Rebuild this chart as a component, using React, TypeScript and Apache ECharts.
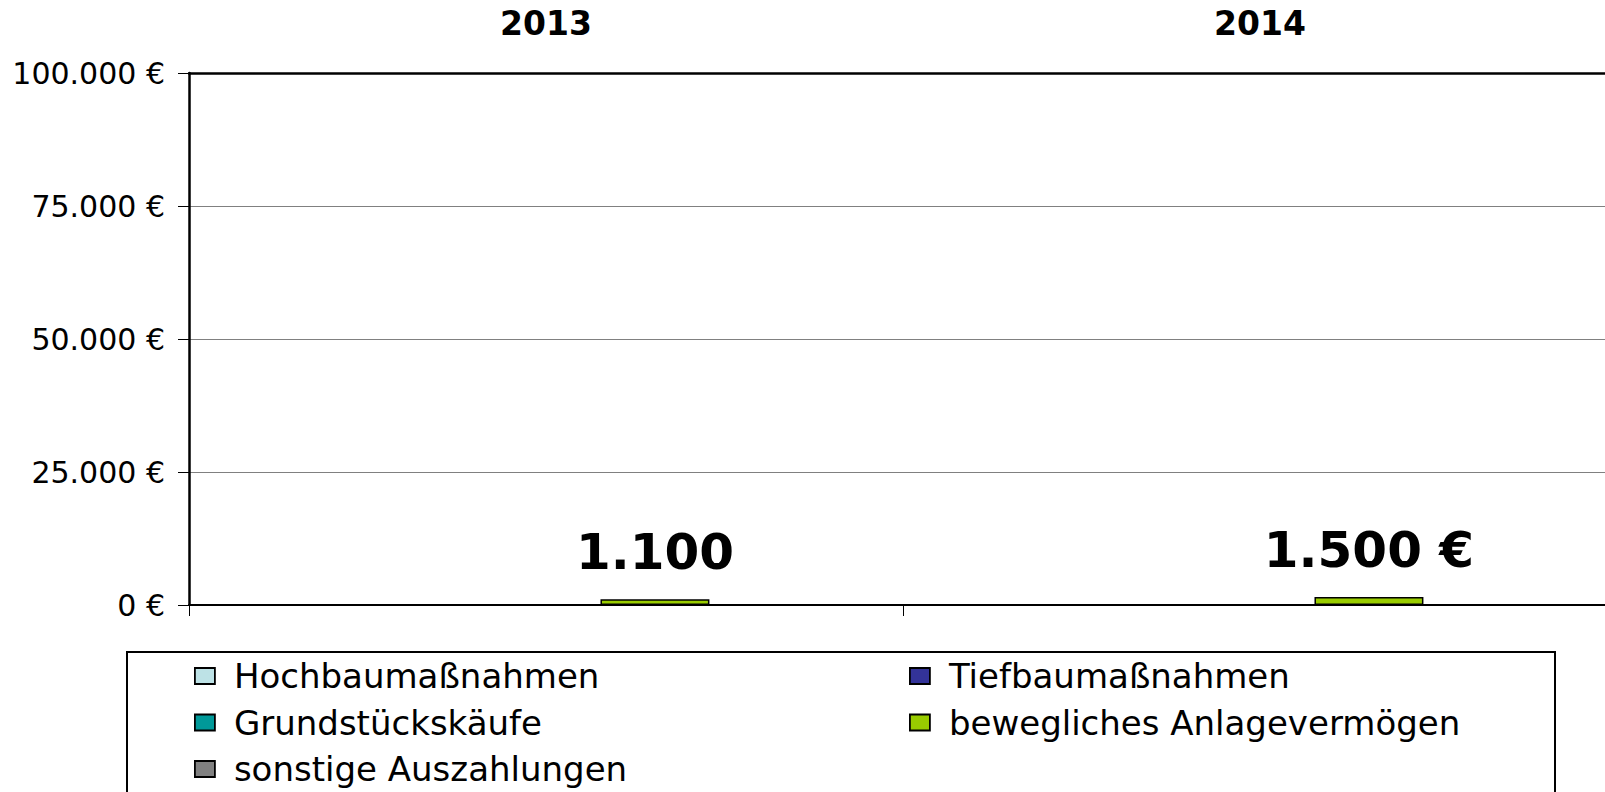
import React, { useEffect, useRef } from "react";
import * as echarts from "echarts";

const categories = ["2013", "2014"];
const seriesNames = [
  "Hochbaumaßnahmen",
  "Tiefbaumaßnahmen",
  "Grundstückskäufe",
  "bewegliches Anlagevermögen",
  "sonstige Auszahlungen",
];
const hochbau = [0, 0];
const tiefbau = [0, 0];
const grundstueck = [0, 0];
const beweglich = [1100, 1500];
const sonstige = [0, 0];
const beweglichSuffix = ["", " €"];
const yTicks = [0, 25000, 50000, 75000, 100000];

const colors = ["#bde2e6", "#333399", "#009999", "#99cc00", "#808080"];

const fmt = (v: number) => String(v).replace(/\B(?=(\d{3})+(?!\d))/g, ".");

export default function App() {
  const ref = useRef<HTMLDivElement>(null);
  useEffect(() => {
    if (!ref.current) return;
    const chart = echarts.init(ref.current, undefined, { renderer: "svg" });
    const allData = [hochbau, tiefbau, grundstueck, beweglich, sonstige];
    const series = seriesNames.map((name, i) => ({
      name,
      type: "bar" as const,
      xAxisIndex: 0,
      data: allData[i],
      barGap: "0%",
      barCategoryGap: "23.7%",
      itemStyle: { color: colors[i], borderColor: "#000", borderWidth: 1.5 },
      label:
        i === 3
          ? {
              show: true,
              position: "top" as const,
              distance: 22,
              fontFamily: "DejaVu Sans",
              fontWeight: "bold" as const,
              fontSize: 50,
              color: "#000",
              formatter: (p: any) => fmt(p.value) + beweglichSuffix[p.dataIndex],
            }
          : { show: false },
    }));
    const legendText = {
      fontFamily: "DejaVu Sans",
      fontSize: 34,
      lineHeight: 34,
      color: "#000",
      padding: [0, 0, 0, 14],
    };
    chart.setOption({
      animation: false,
      backgroundColor: "#fff",
      grid: { left: 189, top: 73, width: 1428, height: 532 },
      xAxis: [
        {
          type: "category",
          data: categories,
          position: "bottom",
          axisLine: { lineStyle: { color: "#000", width: 2 } },
          axisTick: { show: true, length: 11, lineStyle: { color: "#000", width: 1 } },
          axisLabel: { show: false },
        },
        {
          type: "category",
          data: categories,
          position: "top",
          axisLine: { lineStyle: { color: "#000", width: 2.5 } },
          axisTick: { show: false },
          axisLabel: {
            show: true,
            margin: 33,
            fontFamily: "DejaVu Sans",
            fontWeight: "bold",
            fontSize: 33,
            color: "#000",
          },
        },
      ],
      yAxis: {
        type: "value",
        min: yTicks[0],
        max: yTicks[yTicks.length - 1],
        interval: yTicks[1] - yTicks[0],
        axisLine: { show: true, lineStyle: { color: "#000", width: 2.5 } },
        axisTick: { show: true, length: 11, lineStyle: { color: "#000", width: 1 } },
        axisLabel: {
          margin: 24,
          fontFamily: "DejaVu Sans",
          fontSize: 30,
          color: "#000",
          formatter: (v: number) => `${fmt(v)} €`,
        },
        splitLine: { show: true, lineStyle: { color: "#808080", width: 1 } },
      },
      legend: [
        {
          data: [seriesNames[0], seriesNames[2], seriesNames[4]],
          orient: "vertical",
          left: 194,
          top: 659,
          padding: 0,
          itemGap: 12.5,
          itemWidth: 20,
          itemHeight: 16,
          icon: "rect",
          itemStyle: { borderColor: "#000", borderWidth: 1.8 },
          textStyle: legendText,
        },
        {
          data: [seriesNames[1], seriesNames[3]],
          orient: "vertical",
          left: 909,
          top: 659,
          padding: 0,
          itemGap: 12.5,
          itemWidth: 20,
          itemHeight: 16,
          icon: "rect",
          itemStyle: { borderColor: "#000", borderWidth: 1.8 },
          textStyle: legendText,
        },
      ],
      graphic: [
        {
          type: "rect",
          shape: { x: 127, y: 652, width: 1428, height: 200 },
          style: { fill: "none", stroke: "#000", lineWidth: 2 },
          silent: true,
        },
      ],
      series,
    });
    return () => chart.dispose();
  }, []);
  return (
    <div
      ref={ref}
      style={{ position: "fixed", left: 0, top: 0, width: 1620, height: 792, background: "#fff" }}
    />
  );
}
